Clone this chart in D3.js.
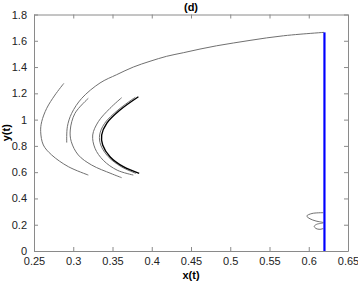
<!DOCTYPE html>
<html>
<head>
<meta charset="utf-8">
<style>
  html, body { margin: 0; padding: 0; background: #fff; }
  svg text { font-family: "Liberation Sans", Arial, sans-serif; }
  .axis text { font-size: 11px; fill: #222; }
  .axis path, .axis line { stroke: #8a8a8a; }
</style>
<script src="https://d3js.org/d3.v7.min.js"></script>
</head>
<body>
<svg id="chart" width="358" height="283"></svg>
<script>
// tick values
const xTicks = [0.25, 0.3, 0.35, 0.4, 0.45, 0.5, 0.55, 0.6, 0.65];
const yTicks = [0, 0.2, 0.4, 0.6, 0.8, 1, 1.2, 1.4, 1.6, 1.8];

// trajectories, [x, y]
const arcA = [[0.288,1.276],[0.2767,1.187],[0.2662,1.086],[0.2598,0.984],[0.2585,0.908],
  [0.2619,0.807],[0.2725,0.731],[0.2937,0.642],[0.3192,0.578]];
const arcB = [[0.6194,1.664],[0.5889,1.650],[0.5677,1.638],[0.5464,1.622],[0.5252,1.603],
  [0.5039,1.583],[0.4827,1.562],[0.4615,1.537],[0.4402,1.509],[0.4190,1.482],
  [0.3978,1.444],[0.3765,1.400],[0.3553,1.342],[0.3341,1.279],[0.3108,1.162],
  [0.2980,1.048],[0.2925,0.946],[0.2917,0.825]];
const arcC = [[0.3192,1.162],[0.3022,1.048],[0.2962,0.921],[0.2975,0.832],
  [0.3064,0.731],[0.3235,0.654],[0.3480,0.590],[0.3617,0.558]];
const arcD = [[0.3617,1.167],[0.3468,1.086],[0.3319,0.984],[0.3248,0.883],[0.3277,0.782],
  [0.3383,0.690],[0.3560,0.615],[0.3765,0.578]];
const arcE = [[0.3790,1.170],[0.3570,1.073],[0.3400,0.972],[0.3336,0.883],[0.3350,0.807],
  [0.3445,0.718],[0.3610,0.642],[0.3800,0.590]];
const arcF = [[0.3830,1.174],[0.3596,1.073],[0.3426,0.972],[0.3362,0.883],[0.3375,0.807],
  [0.3468,0.718],[0.3638,0.642],[0.3840,0.591]];
const wiggle = [[0.6185,0.2915],[0.6041,0.2854],[0.5975,0.2664],[0.6016,0.245],[0.6092,0.2283],
  [0.6185,0.2154],[0.6101,0.2032],[0.6070,0.188],[0.6092,0.1712],[0.6143,0.165],[0.6185,0.1712]];
const blueLine = [[0.62,0],[0.62,1.664]];

const grayArcs = [arcA, arcB, arcC, arcD, arcE, wiggle];

const margin = { top: 14.5, right: 10, bottom: 32, left: 34 };
const width = 358 - margin.left - margin.right;
const height = 283 - margin.top - margin.bottom;

const svg = d3.select("#chart").append("g")
  .attr("transform", "translate(" + margin.left + "," + margin.top + ")");

const x = d3.scaleLinear().domain([0.25, 0.65]).range([0, width]);
const y = d3.scaleLinear().domain([0, 1.8]).range([height, 0]);

// box + ticks
svg.append("g").attr("class", "axis")
  .attr("transform", "translate(0," + height + ")")
  .call(d3.axisBottom(x).tickValues(xTicks).tickSize(-4).tickSizeOuter(0).tickPadding(6)
    .tickFormat(d3.format("")));
svg.append("g").attr("class", "axis")
  .call(d3.axisTop(x).tickValues(xTicks).tickSize(-4).tickSizeOuter(0).tickFormat(""));
svg.append("g").attr("class", "axis")
  .call(d3.axisLeft(y).tickValues(yTicks).tickSize(-4).tickSizeOuter(0).tickPadding(7)
    .tickFormat(d3.format("")));
svg.append("g").attr("class", "axis")
  .attr("transform", "translate(" + width + ",0)")
  .call(d3.axisRight(y).tickValues(yTicks).tickSize(-4).tickSizeOuter(0).tickFormat(""));

const line = d3.line()
  .x(d => x(d[0]))
  .y(d => y(d[1]))
  .curve(d3.curveCatmullRom);

svg.selectAll(".gray")
  .data(grayArcs)
  .enter()
  .append("path")
  .attr("class", "gray")
  .attr("d", line)
  .attr("fill", "none")
  .attr("stroke", "#707070")
  .attr("stroke-width", 1);

svg.append("path")
  .attr("d", line(arcF))
  .attr("fill", "none")
  .attr("stroke", "#000")
  .attr("stroke-width", 1.4);

svg.append("path")
  .attr("d", d3.line().x(d => x(d[0])).y(d => y(d[1]))(blueLine))
  .attr("fill", "none")
  .attr("stroke", "#0000ff")
  .attr("stroke-width", 2.2);

svg.append("text")
  .attr("x", width / 2)
  .attr("y", -4)
  .attr("text-anchor", "middle")
  .attr("font-size", "11px")
  .attr("font-weight", "bold")
  .text("(d)");

svg.append("text")
  .attr("x", width / 2)
  .attr("y", height + 28)
  .attr("text-anchor", "middle")
  .attr("font-size", "11px")
  .attr("font-weight", "bold")
  .text("x(t)");

svg.append("text")
  .attr("transform", "translate(" + (-24) + "," + (height / 2) + ") rotate(-90)")
  .attr("text-anchor", "middle")
  .attr("font-size", "11px")
  .attr("font-weight", "bold")
  .text("y(t)");
</script>
</body>
</html>
